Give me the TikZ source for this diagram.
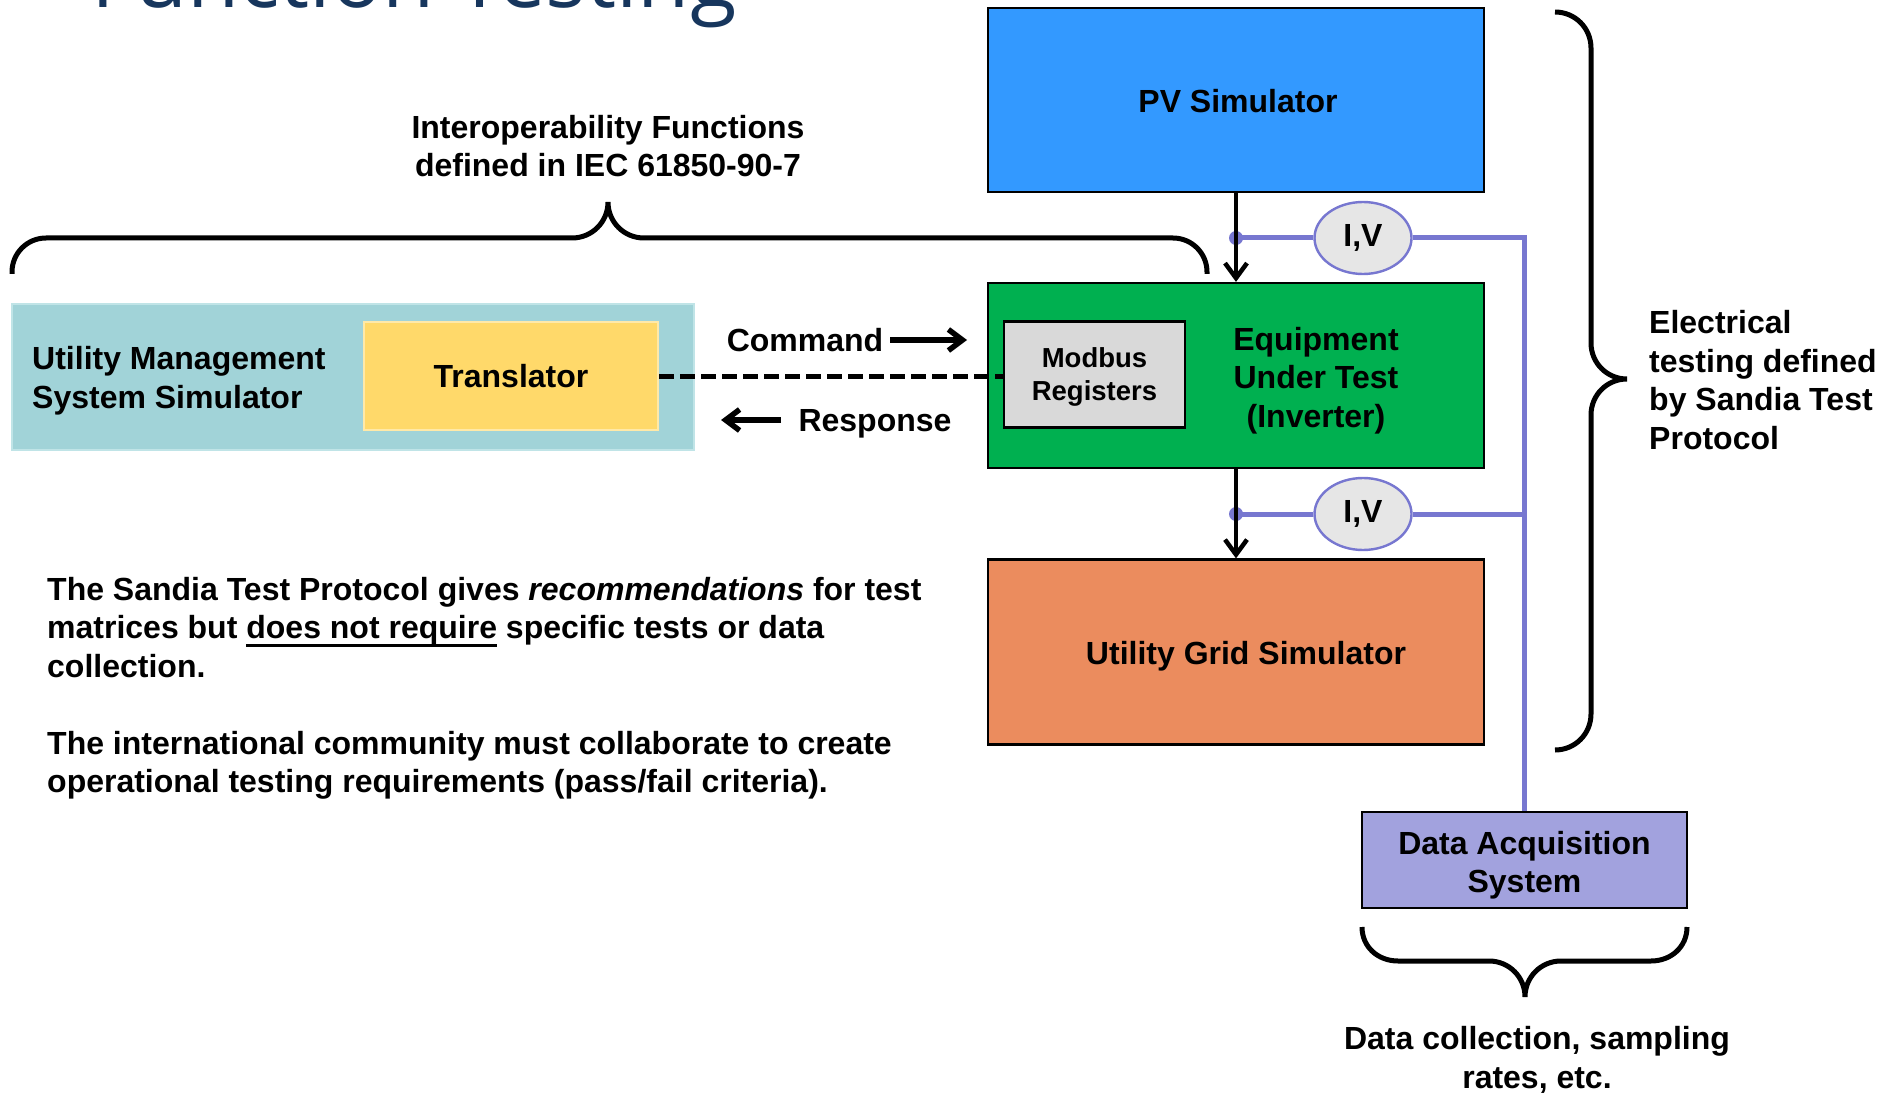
\documentclass[tikz,border=0pt]{standalone}
\usepackage{fontspec}
\setmainfont{Liberation Sans}
\newfontfamily\headfont{Open Sans}
\usetikzlibrary{arrows.meta,shapes.geometric}

\definecolor{pvblue}{HTML}{3399FF}
\definecolor{eutgreen}{HTML}{00B050}
\definecolor{gridorange}{HTML}{EB8C5E}
\definecolor{daqlav}{HTML}{A2A2DE}
\definecolor{meterline}{HTML}{7777D0}
\definecolor{meterfill}{HTML}{E6E6E6}
\definecolor{modgray}{HTML}{D9D9D9}
\definecolor{umsteal}{HTML}{A1D3D8}
\definecolor{umsedge}{HTML}{C0E4E7}
\definecolor{transyellow}{HTML}{FFD96A}
\definecolor{transedge}{HTML}{FFE9A8}
\definecolor{titleblue}{HTML}{17365D}

\newsavebox\ulbox
\newcommand\ulword[1]{\sbox\ulbox{#1}\rlap{\rule[-8pt]{\wd\ulbox}{3pt}}\usebox\ulbox}

\begin{document}
\begin{tikzpicture}[x=1pt,y=-1pt,
  txt/.style={font=\bfseries\fontsize{32}{38.5}\selectfont, inner sep=0pt},
  block/.style={draw=black, line width=2.2pt, inner sep=0pt},
  flow/.style={line width=4.5pt, -{Straight Barb[length=15pt,width=22pt]}},
  hflow/.style={line width=5.5pt, -{Straight Barb[length=14pt,width=21pt]}},
  brace/.style={line width=5pt},
  meter/.style={ellipse, draw=meterline, line width=2.4pt, fill=meterfill,
    minimum width=97pt, minimum height=72pt, inner sep=0pt, txt},
  sense/.style={meterline, line width=5pt},
]
\useasboundingbox (0,0) rectangle (1883,1094);

% heading, cut by the top edge
\begin{scope}
  \clip (0,0) rectangle (1883,1094);
  \node[anchor=base west, inner sep=0pt, text=titleblue,
    font=\headfont\fontsize{85}{85}\selectfont] (title) at (91,8) {Function Testing};
\end{scope}

% left side: utility management system
\node[draw=umsedge, fill=umsteal, line width=2pt, minimum width=682pt,
  minimum height=146pt] (ums) at (353,377) {};
\node[txt, align=left, anchor=west] (umslabel) at (32,380.5)
  {Utility Management\\System Simulator};
\node[draw=transedge, fill=transyellow, line width=2pt, minimum width=294pt,
  minimum height=108pt, txt] (trans) at (511,376) {Translator};

% right side: test bench
\node[block, fill=pvblue, minimum width=496pt, minimum height=184pt]
  (pv) at (1236,100) {};
\node[txt] (pvlabel) at (1238,101.5) {PV Simulator};
\node[block, fill=eutgreen, minimum width=496pt, minimum height=185pt]
  (eut) at (1236,375.5) {};
\node[txt, align=center] (eutlabel) at (1316,380.5)
  {Equipment\\Under Test\\(Inverter)};
\node[block, fill=modgray, minimum width=181pt, minimum height=106pt]
  (modbus) at (1094.5,374.5) {};
\node[font=\bfseries\fontsize{27.5}{33.5}\selectfont, inner sep=0pt,
  align=center] (modbuslabel) at (1094.5,377) {Modbus\\Registers};
\node[block, fill=gridorange, minimum width=496pt, minimum height=185pt]
  (grid) at (1236,652) {};
\node[txt] (gridlabel) at (1246,656.5) {Utility Grid Simulator};
\node[block, fill=daqlav, minimum width=325pt, minimum height=96pt]
  (daq) at (1524.5,860) {};
\node[txt, align=center] (daqlabel) at (1524.5,865) {Data Acquisition\\System};

% measurement points
\node[meter] (iv1) at (1363,238) {I,V};
\node[meter] (iv2) at (1363,514) {I,V};
\coordinate (tap1) at (pv.south |- iv1.west);
\coordinate (tap2) at (eut.south |- iv2.west);
\coordinate (bus) at (daq.north |- iv1.east);
\draw[sense] (tap1) -- (iv1.west);
\draw[sense] (tap2) -- (iv2.west);
\draw[sense] (iv1.east) -- (bus) -- (daq.north);
\draw[sense] (iv2.east) -- (iv2.east -| bus);
\fill[meterline] (tap1) circle (7pt);
\fill[meterline] (tap2) circle (7pt);

% power flow
\draw[flow] (pv.south) -- (eut.north);
\draw[flow] (eut.south) -- (grid.north);

% communication link
\draw[line width=5pt, dash pattern=on 15pt off 6pt]
  (trans.east) -- (trans.east -| modbus.west);
\node[txt] (cmd) at (805,340) {Command};
\coordinate (cmdtail) at (890,340);
\coordinate (cmdtip) at (967,340);
\draw[hflow] (cmdtail) -- (cmdtip);
\node[txt] (resp) at (875,423.5) {Response};
\coordinate (resptail) at (781,420);
\coordinate (resptip) at (721,420);
\draw[hflow] (resptail) -- (resptip);

% braces
\draw[brace] (12,274) -- (12,272) .. controls (12,253.2) and (27.2,238) .. (46,238)
  -- (572,238) .. controls (592,238) and (608,222) .. (608,202)
  .. controls (608,222) and (624,238) .. (644,238)
  -- (1173,238) .. controls (1191.8,238) and (1207,253.2) .. (1207,272) -- (1207,274);
\draw[brace] (1555,12) .. controls (1575,12) and (1591,28) .. (1591,48)
  -- (1591,343) .. controls (1591,363) and (1607,379) .. (1627,379)
  .. controls (1607,379) and (1591,395) .. (1591,415)
  -- (1591,714) .. controls (1591,734) and (1575,750) .. (1555,750);
\draw[brace] (1362,927) .. controls (1362,947) and (1378,961) .. (1398,961)
  -- (1489,961) .. controls (1509,961) and (1525,977) .. (1525,997)
  .. controls (1525,977) and (1541,961) .. (1561,961)
  -- (1651,961) .. controls (1671,961) and (1687,947) .. (1687,927);

% captions
\node[txt, align=center] (interop) at (608,146)
  {Interoperability Functions\\defined in IEC 61850-90-7};
\node[txt, align=left, anchor=west] (elec) at (1649,380)
  {Electrical\\testing defined\\by Sandia Test\\Protocol};
\node[txt, align=center] (datacol) at (1537,1060)
  {Data collection, sampling\\rates, etc.};

% notes
\node[txt, align=left, anchor=west] (note1) at (47,627.5)
  {The Sandia Test Protocol gives \textit{recommendations} for test\\
   matrices but \ulword{does not require} specific tests or data\\
   collection.};
\node[txt, align=left, anchor=west] (note2) at (47,765.5)
  {The international community must collaborate to create\\
   operational testing requirements (pass/fail criteria).};
\end{tikzpicture}
\end{document}
